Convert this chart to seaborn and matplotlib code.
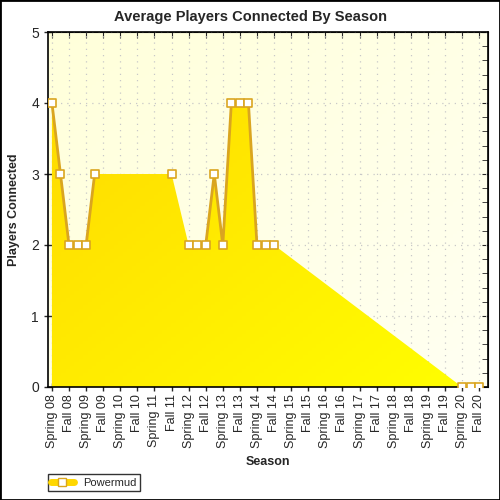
import numpy as np
import pandas as pd
import seaborn as sns
import matplotlib.pyplot as plt
from matplotlib.colors import LinearSegmentedColormap
from matplotlib.lines import Line2D
from matplotlib.patches import Rectangle

# tick labels (one per Spring / Fall)
season_labels = ["Spring 08", "Fall 08", "Spring 09", "Fall 09", "Spring 10", "Fall 10",
                 "Spring 11", "Fall 11", "Spring 12", "Fall 12", "Spring 13", "Fall 13",
                 "Spring 14", "Fall 14", "Spring 15", "Fall 15", "Spring 16", "Fall 16",
                 "Spring 17", "Fall 17", "Spring 18", "Fall 18", "Spring 19", "Fall 19",
                 "Spring 20", "Fall 20"]

# sampled seasons (half steps fall between the labelled ones)
season_pos = [0, 0.5, 1, 1.5, 2, 2.5, 7, 8, 8.5, 9, 9.5, 10, 10.5, 11, 11.5, 12, 12.5, 13,
              24, 24.5, 25]
players = [4, 3, 2, 2, 2, 3, 3, 2, 2, 2, 3, 2, 4, 4, 4, 2, 2, 2, 0, 0, 0]

df = pd.DataFrame({"pos": season_pos, "players": players})
# line only joins neighbouring seasons
df["seg"] = (df["pos"].diff().fillna(0.5) > 0.5).cumsum()

sns.set_style("white")
plt.rcParams['font.family'] = ['Liberation Sans', 'DejaVu Sans']

fig = plt.figure(figsize=(5, 5), dpi=100)
ax = fig.add_axes([0.096, 0.226, 0.88, 0.71])

xmin, xmax = -0.23, 25.52
ax.set_xlim(xmin, xmax)
ax.set_ylim(0, 5)

# background gradient
bg = LinearSegmentedColormap.from_list("bg", ["#FFFFDA", "#FFFFF2"])
grad = np.add.outer(np.linspace(0, 1, 100), np.linspace(0, 1, 100)) / 2
ax.imshow(grad, cmap=bg, extent=[xmin, xmax, 0, 5], origin="upper", aspect="auto", zorder=0)

# gradient area fill
poly = ax.fill_between(df["pos"], df["players"], 0, color="none", zorder=1)
fillmap = LinearSegmentedColormap.from_list("fill", ["#FFD700", "#FFFF00"])
im = ax.imshow(grad, cmap=fillmap, extent=[xmin, xmax, 0, 5], origin="upper",
               aspect="auto", zorder=1)
im.set_clip_path(poly.get_paths()[0], transform=ax.transData)

sns.lineplot(data=df, x="pos", y="players", units="seg", estimator=None, color="#DAA520",
             linewidth=2, ax=ax, zorder=3, legend=False)
sns.scatterplot(data=df, x="pos", y="players", marker="s", s=36, color="white",
                edgecolor="#DAA520", linewidth=1.2, ax=ax, zorder=4, legend=False)

ax.set_xticks(range(len(season_labels)))
ax.set_xticklabels(season_labels, rotation=90, fontsize=9)
ax.set_yticks(range(6))
ax.set_yticks(np.arange(0, 5.01, 0.2), minor=True)
ax.tick_params(axis="y", which="major", labelsize=10, direction="inout", length=6, width=1)
ax.tick_params(axis="y", which="minor", direction="inout", length=4.5, width=1)
ax.tick_params(axis="x", which="major", direction="inout", length=6, width=1, pad=2)
ax.tick_params(left=True, bottom=True)

ax.set_axisbelow(True)
ax.grid(True, color="#C8C8C8", linestyle=(0, (1, 4)), linewidth=0.9)

for sp in ax.spines.values():
    sp.set_color("black")
    sp.set_linewidth(1.2)

# inward ticks on right and top
sec_y = ax.secondary_yaxis("right")
sec_y.set_yticks(range(6))
sec_y.set_yticks(np.arange(0, 5.01, 0.2), minor=True)
sec_y.tick_params(which="both", direction="in", length=4, labelright=False)
sec_x = ax.secondary_xaxis("top")
sec_x.set_xticks(range(len(season_labels)))
sec_x.tick_params(direction="in", length=4, labeltop=False)

ax.set_xlabel("Season", fontsize=9, fontweight="bold", labelpad=6)
ax.set_ylabel("Players Connected", fontsize=9, fontweight="bold", labelpad=8)
fig.text(0.5, 0.966, "Average Players Connected By Season", ha="center", va="center",
         fontsize=10.5, fontweight="bold")

handle = Line2D([], [], color="#FFD700", linewidth=5, marker="s", markersize=6,
                markerfacecolor="white", markeredgecolor="#DAA520")
fig.legend(handles=[handle], labels=["Powermud"], loc="lower left",
           bbox_to_anchor=(0.096, 0.018), frameon=True, fancybox=False, edgecolor="black",
           fontsize=8, handlelength=2.0, borderpad=0.3, handletextpad=0.9,
           borderaxespad=0.0)

fig.patches.append(Rectangle((0, 0), 1, 1, transform=fig.transFigure, fill=False,
                             edgecolor="black", linewidth=2))

fig.savefig("out.png", dpi=100)
